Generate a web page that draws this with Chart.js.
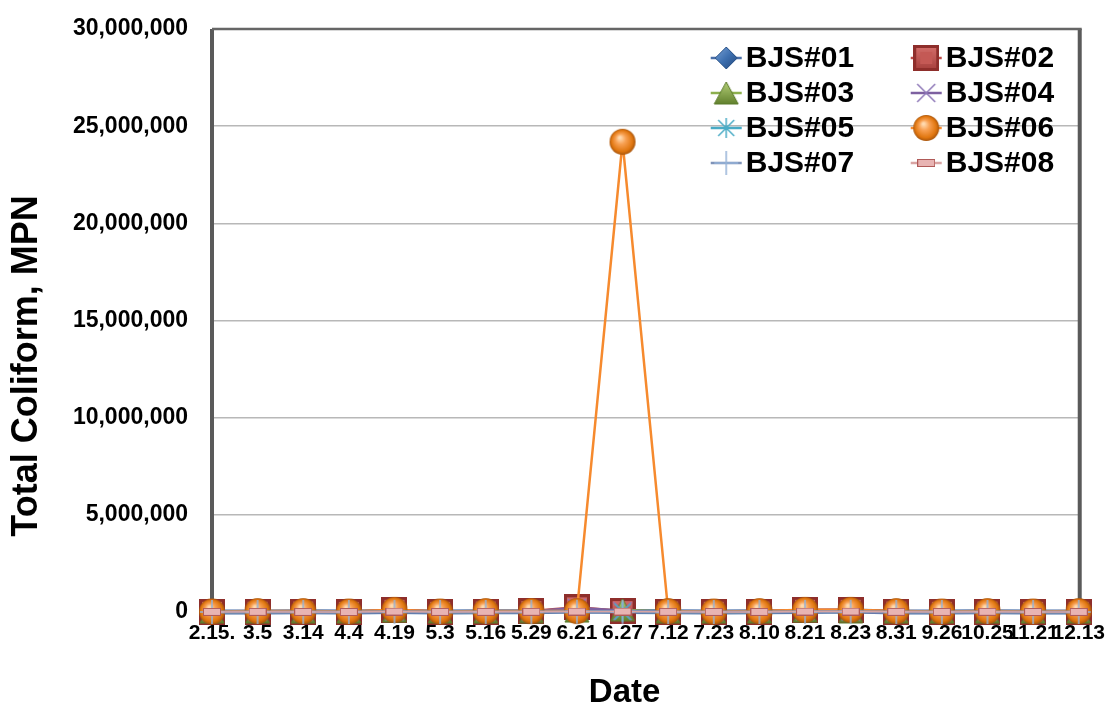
<!DOCTYPE html>
<html>
<head>
<meta charset="utf-8">
<title>Total Coliform by Date</title>
<script src="https://cdn.jsdelivr.net/npm/chart.js@4.4.1/dist/chart.umd.min.js"></script>
<style>
  html, body { margin: 0; padding: 0; background: #ffffff; }
  #wrap { width: 1114px; height: 715px; }
</style>
</head>
<body>
<div id="wrap"><canvas id="chart" width="1114" height="715"></canvas></div>
<script>
// Sampling dates (month.day)
const dates = ['2.15.', '3.5', '3.14', '4.4', '4.19', '5.3', '5.16', '5.29', '6.21', '6.27',
               '7.12', '7.23', '8.10', '8.21', '8.23', '8.31', '9.26', '10.25', '11.21', '12.13'];

// Total coliform (MPN) per station
const bjs01 = [2400, 4600, 9300, 2100, 24000, 4300, 9300, 15000, 46000, 24000, 11000, 4600, 9300, 24000, 46000, 2400, 4300, 9300, 2300, 4600];
const bjs02 = [9300, 15000, 24000, 4600, 110000, 9300, 24000, 46000, 240000, 46000, 24000, 11000, 24000, 110000, 110000, 24000, 9300, 24000, 4600, 9300];
const bjs03 = [4300, 2400, 9300, 4600, 46000, 2300, 4600, 24000, 46000, 110000, 9300, 4600, 2400, 46000, 24000, 9300, 4600, 9300, 2400, 2300];
const bjs04 = [2400, 4600, 4300, 2300, 24000, 4600, 9300, 9300, 210000, 46000, 15000, 4600, 9300, 46000, 24000, 4600, 2400, 4600, 2300, 4300];
const bjs05 = [2300, 2400, 4600, 930, 11000, 2400, 4300, 9300, 24000, 15000, 4600, 2400, 4600, 24000, 24000, 4300, 2300, 4600, 930, 2400];
const bjs06 = [24000, 46000, 46000, 24000, 110000, 24000, 46000, 46000, 46000, 24196000, 46000, 24000, 46000, 110000, 110000, 46000, 24000, 46000, 24000, 46000];
const bjs07 = [930, 2300, 4300, 930, 9300, 2300, 2400, 4600, 15000, 9300, 2400, 930, 2300, 9300, 11000, 2300, 930, 2400, 430, 930];
const bjs08 = [4600, 9300, 4600, 2400, 24000, 4300, 9300, 11000, 24000, 24000, 9300, 4300, 4600, 24000, 24000, 9300, 4300, 11000, 2400, 4600];

const seriesNames = ['BJS#01', 'BJS#02', 'BJS#03', 'BJS#04', 'BJS#05', 'BJS#06', 'BJS#07', 'BJS#08'];
const seriesValues = [bjs01, bjs02, bjs03, bjs04, bjs05, bjs06, bjs07, bjs08];

// Y axis tick values
const yTickValues = [0, 5000000, 10000000, 15000000, 20000000, 25000000, 30000000];

const yTitle = 'Total Coliform, MPN';
const xTitle = 'Date';

const FONT = '"Liberation Sans", Arial, Helvetica, sans-serif';

// ---- marker sprites ----
function sprite(w, h, draw) {
  const c = document.createElement('canvas');
  c.width = w; c.height = h;
  draw(c.getContext('2d'), w, h);
  return c;
}

const mkDiamond = sprite(24, 24, (g, w, h) => {
  const grd = g.createLinearGradient(0, 0, w, h);
  grd.addColorStop(0, '#7FA6D8'); grd.addColorStop(0.5, '#3E70B0'); grd.addColorStop(1, '#1F4478');
  g.beginPath(); g.moveTo(w / 2, 1); g.lineTo(w - 1, h / 2); g.lineTo(w / 2, h - 1); g.lineTo(1, h / 2); g.closePath();
  g.fillStyle = grd; g.fill();
  g.strokeStyle = '#2B5388'; g.lineWidth = 1; g.stroke();
});

const mkSquare = sprite(26, 26, (g, w, h) => {
  g.fillStyle = '#8E2E2B'; g.fillRect(0, 0, w, h);
  const grd = g.createLinearGradient(0, 0, 0, h);
  grd.addColorStop(0, '#D6706C'); grd.addColorStop(1, '#A53E3B');
  g.fillStyle = grd; g.fillRect(3, 3, w - 6, h - 6);
  g.fillStyle = '#C45955'; g.fillRect(7, 7, w - 14, h - 14);
});

const mkTriangle = sprite(26, 24, (g, w, h) => {
  const grd = g.createLinearGradient(0, 0, 0, h);
  grd.addColorStop(0, '#B7D27A'); grd.addColorStop(1, '#5E7D2A');
  g.beginPath(); g.moveTo(w / 2, 1); g.lineTo(w - 1, h - 1); g.lineTo(1, h - 1); g.closePath();
  g.fillStyle = grd; g.fill();
  g.strokeStyle = '#5B7A2A'; g.lineWidth = 1; g.stroke();
});

const mkCrossRot = sprite(24, 24, (g, w, h) => {
  g.strokeStyle = '#8E78B8'; g.lineWidth = 1.5;
  g.beginPath(); g.moveTo(3, 3); g.lineTo(w - 3, h - 3); g.moveTo(w - 3, 3); g.lineTo(3, h - 3); g.stroke();
});

const mkStar = sprite(24, 24, (g, w, h) => {
  g.strokeStyle = '#4BACC6'; g.lineWidth = 1.5;
  g.beginPath();
  g.moveTo(w / 2, 2); g.lineTo(w / 2, h - 2);
  g.moveTo(4, 4); g.lineTo(w - 4, h - 4);
  g.moveTo(w - 4, 4); g.lineTo(4, h - 4);
  g.moveTo(2, h / 2); g.lineTo(w - 2, h / 2);
  g.stroke();
});

const mkSphere = sprite(28, 28, (g, w, h) => {
  const r = 13;
  const grd = g.createRadialGradient(w * 0.4, h * 0.35, 1, w / 2, h / 2, r);
  grd.addColorStop(0, '#FFD9AE'); grd.addColorStop(0.35, '#F8A052'); grd.addColorStop(0.8, '#E0760F'); grd.addColorStop(1, '#A8550C');
  g.beginPath(); g.arc(w / 2, h / 2, r, 0, Math.PI * 2);
  g.fillStyle = grd; g.fill();
});

const mkPlus = sprite(26, 26, (g, w, h) => {
  g.strokeStyle = '#95B3D7'; g.lineWidth = 1.5;
  g.beginPath(); g.moveTo(w / 2, 1); g.lineTo(w / 2, h - 1); g.moveTo(1, h / 2); g.lineTo(w - 1, h / 2); g.stroke();
});

const mkBar = sprite(18, 8, (g, w, h) => {
  g.fillStyle = '#E8B4B3'; g.fillRect(0.5, 0.5, w - 1, h - 1);
  g.strokeStyle = '#B05A58'; g.lineWidth = 1; g.strokeRect(0.5, 0.5, w - 1, h - 1);
});

const styles = [
  { line: '#4A6FA8', width: 5, marker: mkDiamond },
  { line: '#BE4B48', width: 2.5, marker: mkSquare },
  { line: '#8DB04E', width: 2.5, marker: mkTriangle },
  { line: '#7D60A0', width: 3, marker: mkCrossRot },
  { line: '#46AAC5', width: 2.5, marker: mkStar },
  { line: '#F68A2E', width: 2.5, marker: mkSphere },
  { line: '#7F93B8', width: 3, marker: mkPlus },
  { line: '#D8A4A3', width: 1.5, marker: mkBar }
];

const datasets = seriesNames.map((name, i) => ({
  label: name,
  data: seriesValues[i],
  borderColor: styles[i].line,
  backgroundColor: styles[i].line,
  borderWidth: styles[i].width,
  pointStyle: styles[i].marker,
  pointRadius: 12,
  tension: 0,
  clip: false,
  order: seriesNames.length - i   // later stations are painted on top
}));

// Plot frame: heavy sides and a top rule
const framePlugin = {
  id: 'frame',
  beforeDatasetsDraw(chart) {
    const { ctx, chartArea: a } = chart;
    ctx.save();
    ctx.strokeStyle = '#5A5A5A';
    ctx.lineWidth = 4;
    ctx.beginPath();
    ctx.moveTo(a.left, a.bottom); ctx.lineTo(a.left, a.top);
    ctx.moveTo(a.right + 1, a.bottom); ctx.lineTo(a.right + 1, a.top);
    ctx.stroke();
    ctx.lineWidth = 2.5;
    ctx.strokeStyle = '#666666';
    ctx.beginPath();
    ctx.moveTo(a.left, a.top); ctx.lineTo(a.right + 3, a.top);
    ctx.stroke();
    ctx.restore();
  }
};

// Axis titles
const titlesPlugin = {
  id: 'axisTitles',
  afterDraw(chart) {
    const { ctx, chartArea: a } = chart;
    ctx.save();
    ctx.fillStyle = '#000000';
    ctx.textAlign = 'center';
    ctx.textBaseline = 'middle';
    ctx.font = 'bold 33px ' + FONT;
    ctx.fillText(xTitle, a.left + (a.right - a.left) * 0.476, a.bottom + 81);
    ctx.translate(a.left - 185, a.top + (a.bottom - a.top) * 0.578);
    ctx.rotate(-Math.PI / 2);
    ctx.font = 'bold 36px ' + FONT;
    ctx.fillText(yTitle, 0, 0);
    ctx.restore();
  }
};

// Two-column legend inside the plot area
const legendPlugin = {
  id: 'gridLegend',
  afterDatasetsDraw(chart) {
    const { ctx, chartArea: a } = chart;
    const colX = [a.right - 368, a.right - 168];
    const rowY0 = a.top + 29, rowStep = 35;
    ctx.save();
    ctx.font = 'bold 30px ' + FONT;
    ctx.textBaseline = 'middle';
    ctx.textAlign = 'left';
    chart.data.datasets.forEach((ds, i) => {
      const x = colX[i % 2];
      const y = rowY0 + Math.floor(i / 2) * rowStep;
      ctx.strokeStyle = ds.borderColor;
      ctx.lineWidth = 2.5;
      ctx.beginPath(); ctx.moveTo(x, y); ctx.lineTo(x + 31, y); ctx.stroke();
      const m = ds.pointStyle;
      ctx.drawImage(m, x + 15.5 - m.width / 2, y - m.height / 2);
      ctx.fillStyle = '#000000';
      ctx.fillText(ds.label, x + 35, y + 1);
    });
    ctx.restore();
  }
};

new Chart(document.getElementById('chart'), {
  type: 'line',
  data: { labels: dates, datasets },
  plugins: [framePlugin, legendPlugin, titlesPlugin],
  options: {
    responsive: false,
    animation: false,
    events: [],
    layout: { padding: { left: 0, right: 34, top: 29, bottom: 0 } },
    plugins: { legend: { display: false }, tooltip: { enabled: false } },
    scales: {
      x: {
        type: 'category',
        offset: false,
        grid: { display: false, drawTicks: false },
        border: { display: false },
        ticks: {
          autoSkip: false, maxRotation: 0, minRotation: 0, padding: 9,
          color: '#000000', font: { family: FONT, size: 21, weight: 'bold' }
        },
        afterFit(s) { s.height = 103; }
      },
      y: {
        min: 0, max: 30000000,
        grid: { color: '#B8B8B8', lineWidth: 1.5, drawTicks: false },
        border: { display: false },
        afterBuildTicks(s) { s.ticks = yTickValues.map(v => ({ value: v })); },
        ticks: {
          padding: 24, color: '#000000',
          font: { family: FONT, size: 23, weight: 'bold' },
          callback: v => Number(v).toLocaleString('en-US')
        },
        afterFit(s) { s.width = 212; s.paddingTop = 12; s.paddingBottom = 12; }
      }
    }
  }
});
</script>
</body>
</html>
